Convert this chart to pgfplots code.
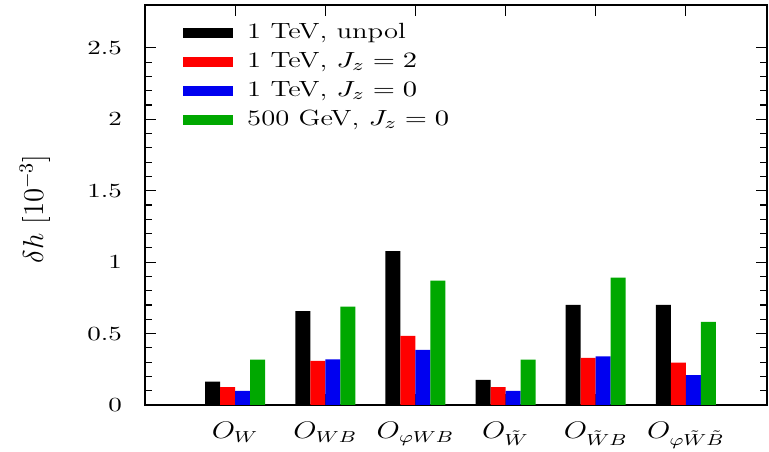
\documentclass[border=0pt]{standalone}
\usepackage{pgfplots}
\pgfplotsset{compat=1.18}
\definecolor{cRed}{RGB}{255,0,0}
\definecolor{cBlue}{RGB}{0,0,240}
\definecolor{cGreen}{RGB}{0,168,0}
\pgfplotsset{
  swatch/.style={legend image code/.code={\fill[##1] (0pt,-2.5pt) rectangle (25pt,2.5pt);}},
}
\begin{document}
\begin{tikzpicture}
\begin{axis}[
  scale only axis,
  width=311pt, height=200pt,
  xmin=0, xmax=6.9,
  ymin=0, ymax=2.8,
  ybar=0pt, bar width=7.5pt,
  xtick={1,2,3,4,5,6},
  xticklabels={$O_W$,$O_{WB}$,$O_{\varphi WB}$,$O_{\tilde W}$,$O_{\tilde W B}$,$O_{\varphi\tilde W\tilde B}$},
  ytick={0,0.5,1,1.5,2,2.5},
  minor y tick num=4,
  tick align=inside,
  major tick length=5.5pt, minor tick length=3.5pt,
  tick style={black, line width=0.6pt},
  axis line style={line width=0.8pt},
  x tick label style={font=\fontsize{11.5}{13}\selectfont, xscale=1.25, inner sep=0.5pt, yshift=-8pt},
  y tick label style={font=\fontsize{10}{12}\selectfont, xscale=1.35, xshift=-5pt},
  every axis y label/.style={at={(rel axis cs:0,0.49)}, xshift=-55pt, anchor=center, rotate=90, font=\fontsize{14}{16}\selectfont},
  ylabel={$\delta h$ [$10^{-3}$]},
  legend cell align=left,
  legend style={draw=none, fill=none, inner sep=0pt, at={(axis description cs:0.061,0.965)}, anchor=north west,
    font=\fontsize{11}{13}\selectfont,
    nodes={xscale=1.3, text height=8pt, text depth=2.5pt, inner sep=1.5pt},
    row sep=1pt,
    /tikz/every odd column/.append style={column sep=5pt}},
]
\addplot[fill=black, draw=none, swatch] coordinates {(1,0.164) (2,0.657) (3,1.077) (4,0.176) (5,0.700) (6,0.700)};
\addlegendentry{1 TeV, unpol}
\addplot[fill=cRed, draw=none, swatch] coordinates {(1,0.125) (2,0.308) (3,0.484) (4,0.125) (5,0.329) (6,0.296)};
\addlegendentry{1 TeV, $J_z=2$}
\addplot[fill=cBlue, draw=none, swatch] coordinates {(1,0.099) (2,0.319) (3,0.385) (4,0.099) (5,0.340) (6,0.209)};
\addlegendentry{1 TeV, $J_z=0$}
\addplot[fill=cGreen, draw=none, swatch] coordinates {(1,0.317) (2,0.688) (3,0.871) (4,0.317) (5,0.892) (6,0.582)};
\addlegendentry{500 GeV, $J_z=0$}
\end{axis}
\pgfresetboundingbox
\path[use as bounding box] ([xshift=-72.5pt,yshift=-23.5pt]current axis.south west) rectangle ([xshift=1pt,yshift=2.5pt]current axis.north east);
\end{tikzpicture}
\end{document}
